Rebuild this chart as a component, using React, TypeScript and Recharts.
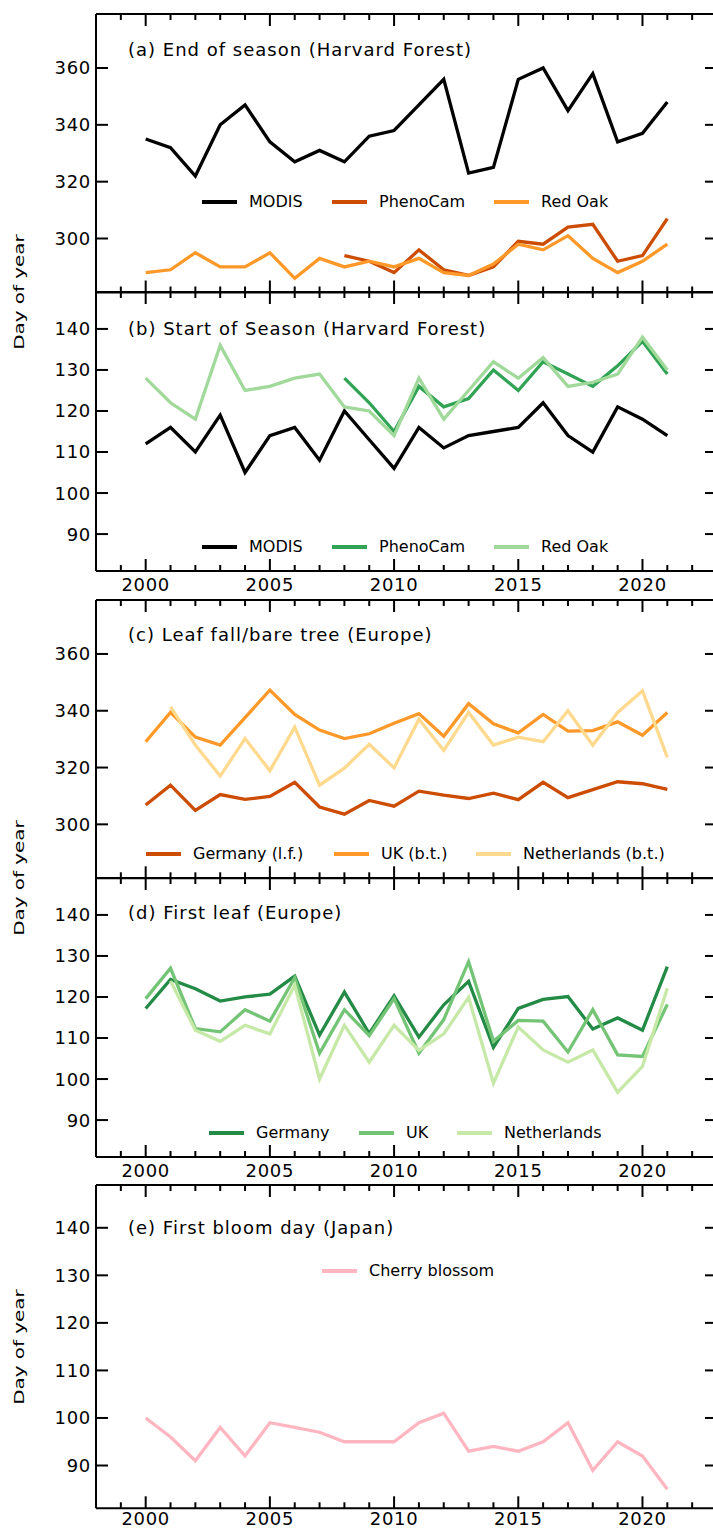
import React from 'react'
import { LineChart, Line, XAxis, YAxis, Legend } from 'recharts'

const years = [2000, 2001, 2002, 2003, 2004, 2005, 2006, 2007, 2008, 2009, 2010, 2011, 2012, 2013, 2014, 2015, 2016, 2017, 2018, 2019, 2020, 2021]
const yearTicks = [1999, 2000, 2001, 2002, 2003, 2004, 2005, 2006, 2007, 2008, 2009, 2010, 2011, 2012, 2013, 2014, 2015, 2016, 2017, 2018, 2019, 2020, 2021, 2022]
const autumnTicks = [300, 320, 340, 360]
const springTicks = [90, 100, 110, 120, 130, 140]

// (a) end of season, Harvard Forest
const eosModis = [335, 332, 322, 340, 347, 334, 327, 331, 327, 336, 338, 347, 356, 323, 325, 356, 360, 345, 358, 334, 337, 348]
const eosPhenoCam = [null, null, null, null, null, null, null, null, 294, 292, 288, 296, 289, 287, 290, 299, 298, 304, 305, 292, 294, 307]
const eosRedOak = [288, 289, 295, 290, 290, 295, 286, 293, 290, 292, 290, 293, 288, 287, 291, 298, 296, 301, 293, 288, 292, 298]

// (b) start of season, Harvard Forest
const sosModis = [112, 116, 110, 119, 105, 114, 116, 108, 120, 113, 106, 116, 111, 114, 115, 116, 122, 114, 110, 121, 118, 114]
const sosPhenoCam = [null, null, null, null, null, null, null, null, 128, 122, 115, 126, 121, 123, 130, 125, 132, 129, 126, 131, 137, 129]
const sosRedOak = [128, 122, 118, 136, 125, 126, 128, 129, 121, 120, 114, 128, 118, 125, 132, 128, 133, 126, 127, 129, 138, 130]

// (c) leaf fall / bare tree, Europe
const fallGermany = [306.8, 313.8, 304.9, 310.5, 308.8, 309.8, 314.8, 306.1, 303.6, 308.4, 306.4, 311.7, 310.3, 309.1, 311, 308.7, 314.8, 309.4, 312.2, 315, 314.3, 312.3]
const fallUK = [329.1, 339.4, 330.7, 327.9, 337.6, 347.3, 338.7, 333.2, 330.2, 331.9, 335.6, 339, 331, 342.5, 335.4, 332.2, 338.7, 332.8, 333, 336.1, 331.4, 339.4]
const fallNetherlands = [null, 341.4, 327.9, 317, 330.2, 318.9, 334.2, 313.8, 319.8, 328.2, 319.9, 337, 326, 339.4, 327.9, 330.7, 329.1, 340, 327.9, 339.4, 347, 323.6]

// (d) first leaf, Europe
const leafGermany = [117.2, 124.3, 122, 119, 120, 120.7, 125.1, 110.7, 121.2, 111.1, 120.3, 110.2, 118.1, 123.8, 107.7, 117.2, 119.4, 120.1, 112.2, 114.9, 111.9, 127.4]
const leafUK = [119.6, 127, 112.3, 111.5, 116.9, 114.1, 124.7, 106.3, 116.9, 110.6, 119.6, 106.3, 114.5, 128.6, 109.2, 114.3, 114.1, 106.6, 116.9, 105.9, 105.5, 118.2]
const leafNetherlands = [null, 123.9, 111.9, 109.2, 113.1, 111, 122.9, 100, 113.1, 104.1, 113.1, 107, 111, 119.9, 99, 112.7, 107.1, 104.1, 107.1, 96.8, 103.1, 122.1]

// (e) first bloom, Japan
const bloomCherry = [100, 96, 91, 98, 92, 99, 98, 97, 95, 95, 95, 99, 101, 93, 94, 93, 95, 99, 89, 95, 92, 85]

type Series = { name: string; values: (number | null)[]; color: string; legendX: number }

const FONT = '"DejaVu Sans", sans-serif'
const PAD = 4
const BOTTOM = 30
const CHART_W = 760
const PLOT_LEFT = 96
const PLOT_RIGHT = 717

const rowsFor = (series: Series[]) =>
  years.map((year, i) => {
    const row: Record<string, number | null> = { year }
    series.forEach((s) => (row[s.name] = s.values[i]))
    return row
  })

// bottom axis tick renderer: draws the inward tick on the bottom and the top spine
function xTick(labelGap: number | null, plotH: number) {
  return (p: any) => {
    const v = p.payload.value
    const major = v % 5 === 0
    const len = major ? 12 : 6
    const yTop = p.y - plotH
    return (
      <g>
        <line x1={p.x} x2={p.x} y1={p.y} y2={p.y - len} stroke="#000" strokeWidth={2} />
        <line x1={p.x} x2={p.x} y1={yTop} y2={yTop + len} stroke="#000" strokeWidth={2} />
        {labelGap !== null && major ? (
          <text x={p.x} y={p.y + labelGap} textAnchor="middle" fontSize={18} letterSpacing={0.7} fontFamily={FONT} fill="#000">
            {v}
          </text>
        ) : null}
      </g>
    )
  }
}

// left axis tick renderer: inward ticks on both the left and right spine
function yTick(p: any) {
  return (
    <g>
      <line x1={p.x} x2={p.x + 12} y1={p.y} y2={p.y} stroke="#000" strokeWidth={2} />
      <line x1={PLOT_RIGHT - 12} x2={PLOT_RIGHT} y1={p.y} y2={p.y} stroke="#000" strokeWidth={2} />
      <text x={p.x - 5} y={p.y} dy="0.36em" textAnchor="end" fontSize={18} letterSpacing={0.7} fontFamily={FONT} fill="#000">
        {p.payload.value}
      </text>
    </g>
  )
}

function Panel({
  top,
  height,
  domain,
  ticks,
  series,
  title,
  titleY,
  legendY,
  labelGap,
}: {
  top: number
  height: number
  domain: [number, number]
  ticks: number[]
  series: Series[]
  title: string
  titleY: number
  legendY: number
  labelGap: number | null
}) {
  const data = rowsFor(series)
  const spine = { stroke: '#000', strokeWidth: 2 }
  return (
    <div style={{ position: 'absolute', left: 0, top: top - PAD }}>
      <LineChart
        width={CHART_W}
        height={height + PAD + BOTTOM}
        data={data}
        margin={{ top: PAD - 1, right: 0, bottom: BOTTOM - 1, left: 0 }}
      >
        <XAxis
          dataKey="year"
          type="number"
          domain={[1998, 2023]}
          ticks={yearTicks}
          interval={0}
          height={1}
          tickSize={0}
          tickMargin={0}
          tickLine={false}
          axisLine={spine}
          tick={xTick(labelGap, height)}
          allowDataOverflow
        />
        <XAxis
          xAxisId="top"
          orientation="top"
          dataKey="year"
          type="number"
          domain={[1998, 2023]}
          height={1}
          tickLine={false}
          axisLine={spine}
          tick={false}
          allowDataOverflow
        />
        <YAxis
          type="number"
          domain={domain}
          ticks={ticks}
          interval={0}
          width={PLOT_LEFT}
          tickSize={0}
          tickMargin={0}
          tickLine={false}
          axisLine={spine}
          tick={yTick}
          allowDataOverflow
        />
        <YAxis
          yAxisId="right"
          orientation="right"
          type="number"
          domain={domain}
          width={CHART_W - PLOT_RIGHT}
          tickLine={false}
          axisLine={spine}
          tick={false}
          allowDataOverflow
        />
        {series.map((s) => (
          <Line
            key={s.name}
            type="linear"
            dataKey={s.name}
            stroke={s.color}
            strokeWidth={3.3}
            dot={false}
            activeDot={false}
            connectNulls={false}
            isAnimationActive={false}
          />
        ))}
        <Legend
          layout="horizontal"
          verticalAlign="middle"
          align="center"
          wrapperStyle={{ top: legendY - top + PAD - 10, left: 0, width: 713, height: 20 }}
          content={() => (
            <div style={{ position: 'relative', height: 20, fontFamily: FONT, fontSize: 16 }}>
              {series.map((s) => (
                <div key={s.name}>
                  <span
                    style={{
                      position: 'absolute',
                      left: s.legendX,
                      top: 8,
                      width: 35,
                      height: 0,
                      borderTop: `4px solid ${s.color}`,
                    }}
                  />
                  <span style={{ position: 'absolute', left: s.legendX + 47, top: 0, lineHeight: '20px', whiteSpace: 'nowrap', color: '#000' }}>
                    {s.name}
                  </span>
                </div>
              ))}
            </div>
          )}
        />
      </LineChart>
      <div
        style={{
          position: 'absolute',
          left: 128,
          top: titleY - top + PAD - 11,
          fontFamily: FONT,
          fontSize: 18,
          letterSpacing: 1,
          lineHeight: '22px',
          whiteSpace: 'nowrap',
          color: '#000',
        }}
      >
        {title}
      </div>
    </div>
  )
}

function YLabel({ y }: { y: number }) {
  return (
    <div
      style={{
        position: 'absolute',
        left: 19,
        top: y,
        transform: 'translate(-50%, -50%) rotate(-90deg) scaleX(1.42)',
        fontFamily: FONT,
        fontSize: 14,
        whiteSpace: 'nowrap',
        color: '#000',
      }}
    >
      Day of year
    </div>
  )
}

export default function App() {
  return (
    <div style={{ position: 'absolute', left: 0, top: 0, width: 713, height: 1530, overflow: 'hidden', background: '#fff' }}>
      <Panel
        top={14}
        height={278.5}
        domain={[281, 379]}
        ticks={autumnTicks}
        title="(a) End of season (Harvard Forest)"
        titleY={50}
        legendY={202}
        labelGap={null}
        series={[
          { name: 'MODIS', values: eosModis, color: '#000000', legendX: 202 },
          { name: 'PhenoCam', values: eosPhenoCam, color: '#cc4c02', legendX: 332 },
          { name: 'Red Oak', values: eosRedOak, color: '#fe9929', legendX: 494 },
        ]}
      />
      <Panel
        top={292}
        height={279}
        domain={[81, 149]}
        ticks={springTicks}
        title="(b) Start of Season (Harvard Forest)"
        titleY={329}
        legendY={547}
        labelGap={19.5}
        series={[
          { name: 'MODIS', values: sosModis, color: '#000000', legendX: 202 },
          { name: 'PhenoCam', values: sosPhenoCam, color: '#31a354', legendX: 332 },
          { name: 'Red Oak', values: sosRedOak, color: '#a1d99b', legendX: 494 },
        ]}
      />
      <Panel
        top={600}
        height={278.3}
        domain={[281, 379]}
        ticks={autumnTicks}
        title="(c) Leaf fall/bare tree (Europe)"
        titleY={635}
        legendY={854}
        labelGap={null}
        series={[
          { name: 'Germany (l.f.)', values: fallGermany, color: '#cc4c02', legendX: 146 },
          { name: 'UK (b.t.)', values: fallUK, color: '#fe9929', legendX: 334 },
          { name: 'Netherlands (b.t.)', values: fallNetherlands, color: '#fed98e', legendX: 476 },
        ]}
      />
      <Panel
        top={878}
        height={279}
        domain={[81, 149]}
        ticks={springTicks}
        title="(d) First leaf (Europe)"
        titleY={913}
        legendY={1133}
        labelGap={19.5}
        series={[
          { name: 'Germany', values: leafGermany, color: '#238b45', legendX: 209 },
          { name: 'UK', values: leafUK, color: '#74c476', legendX: 359 },
          { name: 'Netherlands', values: leafNetherlands, color: '#c7e9a8', legendX: 457 },
        ]}
      />
      <Panel
        top={1185}
        height={323.3}
        domain={[81, 149]}
        ticks={springTicks}
        title="(e) First bloom day (Japan)"
        titleY={1228}
        legendY={1271}
        labelGap={16.5}
        series={[{ name: 'Cherry blossom', values: bloomCherry, color: '#ffb6c1', legendX: 322 }]}
      />
      <YLabel y={292} />
      <YLabel y={878} />
      <YLabel y={1347} />
    </div>
  )
}
